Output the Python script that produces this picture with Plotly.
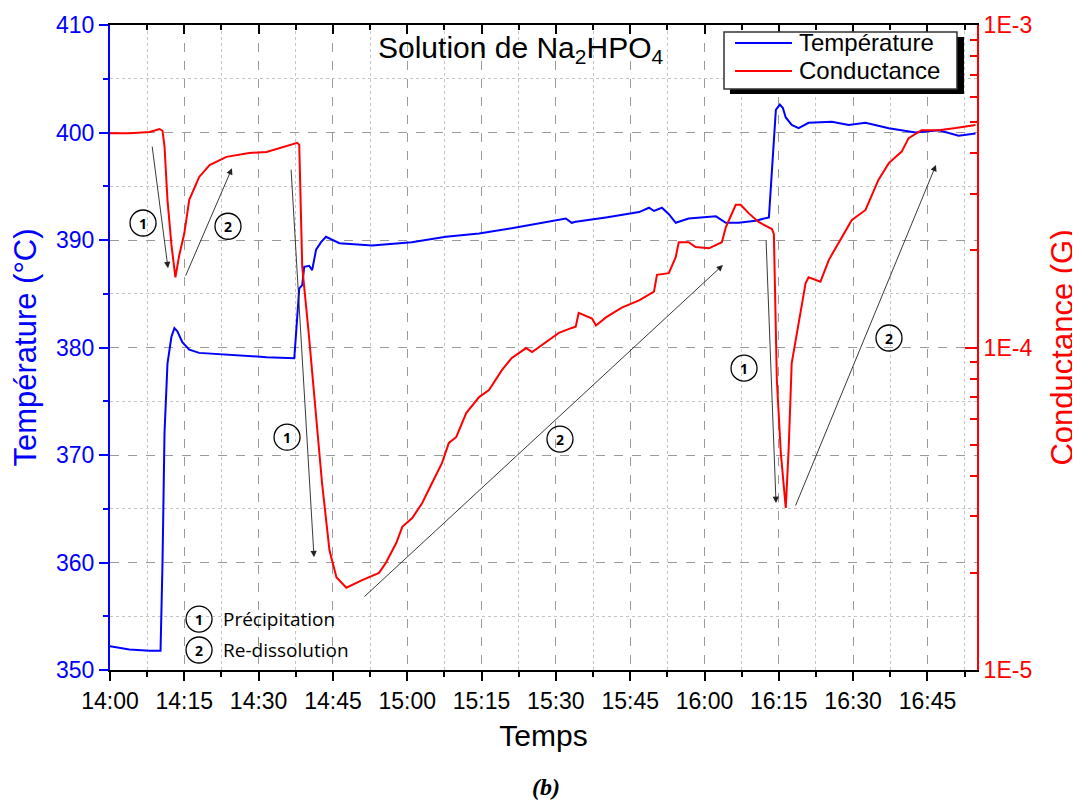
import plotly.graph_objects as go

# ---------------- data (minutes after 14:00) ----------------
temp_time = [0, 3.9, 8.0, 10.2, 10.6, 11.0, 11.6, 12.4, 13.0, 13.6, 14.6, 16.0, 18.0,
             24.7, 31.6, 37.2, 37.6, 38.2, 38.8, 39.2, 40.2, 40.8, 41.6, 42.6, 43.6,
             44.9, 46.3, 52.9, 60.9, 67.8, 74.5, 81.1, 88.0, 92.0, 93.2, 94.0, 100.1,
             106.8, 108.8, 109.8, 111.4, 112.8, 114.2, 116.8, 122.3, 124.3, 126.9,
             130.3, 133.0, 133.6, 134.4, 135.2, 135.8, 136.4, 137.6, 139.0, 141.0,
             145.7, 149.1, 152.5, 157.2, 162.6, 167.3, 171.3, 174.7]
temperature = [352.2, 351.9, 351.8, 351.8, 360.0, 372.0, 378.5, 381.0, 381.8, 381.5,
               380.5, 379.8, 379.5, 379.3, 379.1, 379.0, 382.0, 385.5, 385.8, 387.5,
               387.6, 387.2, 389.1, 389.8, 390.3, 390.0, 389.7, 389.5, 389.8, 390.3,
               390.6, 391.1, 391.7, 392.0, 391.6, 391.7, 392.1, 392.6, 393.0, 392.7,
               393.0, 392.4, 391.6, 392.0, 392.2, 391.6, 391.6, 391.8, 392.1, 396.0,
               402.1, 402.6, 402.3, 401.4, 400.7, 400.4, 400.9, 401.0, 400.7, 400.9,
               400.4, 400.0, 400.2, 399.7, 399.9]

cond_time = [0, 4.0, 8.0, 10.0, 10.6, 11.0, 11.6, 12.4, 13.2, 14.0, 15.0, 16.0, 18.0,
             20.1, 23.5, 28.1, 31.6, 35.6, 37.8, 38.2, 38.8, 40.1, 41.6, 42.8, 44.3,
             45.7, 47.7, 50.9, 54.3, 55.7, 57.8, 59.0, 61.0, 63.0, 65.0, 67.0, 68.4,
             69.9, 71.9, 74.5, 76.5, 79.1, 81.1, 84.0, 85.2, 88.0, 90.6, 93.2, 94.0,
             94.6, 97.3, 98.1, 100.1, 103.3, 106.8, 109.8, 110.4, 112.8, 114.2, 114.8,
             116.8, 118.2, 120.9, 123.5, 124.3, 126.3, 127.3, 128.9, 130.9, 133.6,
             134.0, 134.6, 135.4, 136.4, 137.0, 137.6, 139.0, 140.4, 141.0, 143.4,
             145.1, 147.1, 149.7, 152.5, 155.1, 157.2, 159.8, 161.2, 163.8, 167.3,
             170.7, 174.7]
conductance = [4.62e-4, 4.62e-4, 4.66e-4, 4.76e-4, 4.70e-4, 4.20e-4, 2.87e-4, 2.08e-4,
               1.65e-4, 1.94e-4, 2.26e-4, 2.87e-4, 3.38e-4, 3.68e-4, 3.90e-4, 4.01e-4,
               4.04e-4, 4.21e-4, 4.31e-4, 4.25e-4, 1.78e-4, 1.11e-4, 6.26e-5, 3.80e-5,
               2.35e-5, 1.94e-5, 1.80e-5, 1.90e-5, 2.00e-5, 2.15e-5, 2.48e-5, 2.78e-5,
               2.96e-5, 3.29e-5, 3.80e-5, 4.38e-5, 5.06e-5, 5.28e-5, 6.26e-5, 7.02e-5,
               7.38e-5, 8.51e-5, 9.28e-5, 9.96e-5, 9.68e-5, 1.04e-4, 1.11e-4, 1.15e-4,
               1.16e-4, 1.28e-4, 1.23e-4, 1.17e-4, 1.24e-4, 1.33e-4, 1.40e-4, 1.49e-4,
               1.68e-4, 1.70e-4, 1.91e-4, 2.12e-4, 2.12e-4, 2.05e-4, 2.03e-4, 2.12e-4,
               2.36e-4, 2.77e-4, 2.77e-4, 2.61e-4, 2.45e-4, 2.33e-4, 2.25e-4, 7.93e-5,
               4.71e-5, 3.18e-5, 4.91e-5, 8.95e-5, 1.19e-4, 1.58e-4, 1.65e-4, 1.60e-4,
               1.87e-4, 2.11e-4, 2.48e-4, 2.67e-4, 3.31e-4, 3.73e-4, 4.05e-4, 4.46e-4,
               4.72e-4, 4.72e-4, 4.79e-4, 4.90e-4]

series_names = ["Température", "Conductance"]
x_tick_labels = ["14:00", "14:15", "14:30", "14:45", "15:00", "15:15", "15:30",
                 "15:45", "16:00", "16:15", "16:30", "16:45"]
x_tick_minutes = [0, 15, 30, 45, 60, 75, 90, 105, 120, 135, 150, 165]
x_minor_minutes = [7.5 + 15 * i for i in range(12)]
cond_tick_vals = [1e-5, 1e-4, 1e-3]
cond_tick_labels = ["1E-5", "1E-4", "1E-3"]
cond_minor_vals = [k * 10.0 ** e for e in (-5, -4) for k in range(2, 10)]

BLUE = "#0000ff"
RED = "#ff0000"
FONT = "Liberation Sans"

fig = go.Figure()
fig.add_trace(go.Scatter(x=temp_time, y=temperature, mode="lines", name=series_names[0],
                         line=dict(color=BLUE, width=2), yaxis="y"))
fig.add_trace(go.Scatter(x=cond_time, y=conductance, mode="lines", name=series_names[1],
                         line=dict(color=RED, width=2), yaxis="y2"))
# invisible helper trace so the top frame axis is drawn
fig.add_trace(go.Scatter(x=temp_time, y=temperature, mode="lines", xaxis="x2", yaxis="y",
                         line=dict(width=0), opacity=0, showlegend=False, hoverinfo="skip"))

# page body has an 8px margin, so the figure is 8px smaller than the window
fig.update_layout(
    width=1072, height=794,
    margin=dict(l=102, r=103, t=17, b=132, autoexpand=False),
    paper_bgcolor="white", plot_bgcolor="white",
    font=dict(family=FONT, size=22, color="black"),
    showlegend=False,
    xaxis=dict(
        range=[0, 175], tickmode="array", tickvals=x_tick_minutes, ticktext=x_tick_labels,
        showline=True, linecolor="black", linewidth=2, automargin=False,
        ticks="outside", ticklen=9, tickwidth=2, tickcolor="black",
        tickfont=dict(size=23, color="black"),
        showgrid=True, gridcolor="#9a9a9a", griddash="dash", gridwidth=1,
        minor=dict(tickmode="array", tickvals=x_minor_minutes, ticks="outside", ticklen=5,
                   tickwidth=2, tickcolor="black", showgrid=True, gridcolor="#c4c4c4",
                   griddash="dot", gridwidth=1),
        title=dict(text="Temps", font=dict(size=30, color="black"), standoff=12),
        zeroline=False,
    ),
    xaxis2=dict(
        range=[0, 175], overlaying="x", side="top", showline=True, linecolor="black",
        linewidth=2, ticks="inside", ticklen=9, tickwidth=2, tickcolor="black",
        tickmode="array", tickvals=x_tick_minutes, showticklabels=False, showgrid=False,
        automargin=False,
        minor=dict(tickmode="array", tickvals=x_minor_minutes, ticks="inside", ticklen=5,
                   tickwidth=2, tickcolor="black", showgrid=False),
        zeroline=False,
    ),
    yaxis=dict(
        range=[350, 410], tickmode="linear", tick0=350, dtick=10,
        showline=True, linecolor=BLUE, linewidth=2, automargin=False,
        ticks="outside", ticklen=9, tickwidth=2, tickcolor=BLUE,
        tickfont=dict(size=23, color=BLUE),
        showgrid=True, gridcolor="#9a9a9a", griddash="dash", gridwidth=1,
        minor=dict(dtick=5, ticks="outside", ticklen=5, tickwidth=2, tickcolor=BLUE,
                   showgrid=True, gridcolor="#c4c4c4", griddash="dot", gridwidth=1),
        title=dict(text="Température (°C)", font=dict(size=31, color=BLUE), standoff=14),
        zeroline=False,
    ),
    yaxis2=dict(
        type="log", range=[-5, -3], overlaying="y", side="right",
        tickmode="array", tickvals=cond_tick_vals, ticktext=cond_tick_labels,
        showline=True, linecolor=RED, linewidth=2, automargin=False,
        ticks="inside", ticklen=12, tickwidth=2, tickcolor=RED,
        tickfont=dict(size=23, color=RED), showgrid=False,
        minor=dict(tickmode="array", tickvals=cond_minor_vals, ticks="inside", ticklen=7,
                   tickwidth=2, tickcolor=RED, showgrid=False),
        title=dict(text="Conductance (G)", font=dict(size=31, color=RED), standoff=20),
        zeroline=False,
    ),
)

# ---- legend box with drop shadow (drawn by hand to match the original) ----
fig.add_shape(type="rect", xref="paper", yref="paper", x0=0.7151, x1=0.9850,
              y0=0.8930, y1=0.9814, fillcolor="black", line=dict(width=0), layer="above")
fig.add_shape(type="rect", xref="paper", yref="paper", x0=0.7082, x1=0.9769,
              y0=0.9008, y1=0.9891, fillcolor="white",
              line=dict(color="#333333", width=1.5), layer="above")
for ly, col, name in [(0.9721, BLUE, series_names[0]), (0.9287, RED, series_names[1])]:
    fig.add_shape(type="line", xref="paper", yref="paper", x0=0.7209, x1=0.7866,
                  y0=ly, y1=ly, line=dict(color=col, width=2), layer="above")
    fig.add_annotation(x=0.7924, y=ly, xref="paper", yref="paper", text=name,
                       xanchor="left", yanchor="middle", showarrow=False,
                       font=dict(family=FONT, size=24, color="black"))

# title
fig.add_annotation(text="Solution de Na<sub>2</sub>HPO<sub>4</sub>", xref="paper", yref="paper",
                   x=0.4746, y=0.962, xanchor="center", yanchor="middle", showarrow=False,
                   font=dict(family=FONT, size=30, color="black"))

# arrows: head in paper coords, tail offset in px
arrows = [
    (0.0669, 0.623, -16, -123),
    (0.1407, 0.778, -47, 109),
    (0.2353, 0.175, -23, -389),
    (0.7070, 0.628, -360, 333),
    (0.7682, 0.259, -10, -264),
    (0.9527, 0.783, -141, 342),
]
for hx, hy, ax, ay in arrows:
    fig.add_annotation(x=hx, y=hy, xref="paper", yref="paper", ax=ax, ay=ay,
                       showarrow=True, arrowhead=2, arrowsize=1.4, arrowwidth=0.9,
                       arrowcolor="#222222", text="", standoff=0)

# circled numbers
circles = [
    (0.0381, 0.693, "1"), (0.1361, 0.688, "2"),
    (0.2042, 0.361, "1"), (0.5190, 0.358, "2"),
    (0.7313, 0.468, "1"), (0.8985, 0.5147, "2"),
    (0.1027, 0.079, "1"), (0.1027, 0.031, "2"),
]
for cx, cy, lab in circles:
    fig.add_shape(type="circle", xref="paper", yref="paper", xsizemode="pixel",
                  ysizemode="pixel", xanchor=cx, yanchor=cy, x0=-13, x1=13, y0=-13, y1=13,
                  line=dict(color="black", width=1.3), fillcolor="rgba(0,0,0,0)", layer="above")
    fig.add_annotation(x=cx, y=cy, xref="paper", yref="paper", text="<b>" + lab + "</b>",
                       xanchor="center", yanchor="middle", showarrow=False,
                       font=dict(family="Noto Sans", size=14, color="black"))

fig.add_annotation(x=0.1286, y=0.079, xref="paper", yref="paper", text="Précipitation",
                   xanchor="left", yanchor="middle", showarrow=False,
                   font=dict(family="Open Sans", size=19, color="black"))
fig.add_annotation(x=0.1286, y=0.031, xref="paper", yref="paper", text="Re-dissolution",
                   xanchor="left", yanchor="middle", showarrow=False,
                   font=dict(family="Open Sans", size=19, color="black"))

# caption
fig.add_annotation(x=0.503, y=-0.1814, xref="paper", yref="paper", text="<b><i>(b)</i></b>",
                   xanchor="center", yanchor="middle", showarrow=False,
                   font=dict(family="Liberation Serif", size=24, color="black"))

fig.write_html("out.html")
